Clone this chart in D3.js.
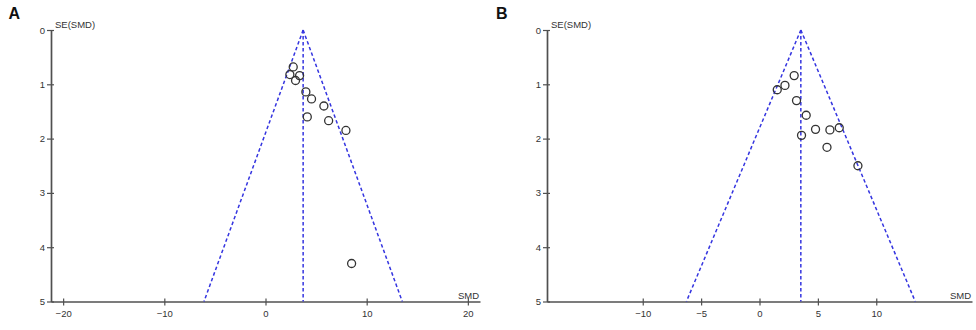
<!DOCTYPE html>
<html><head><meta charset="utf-8">
<script src="https://cdn.jsdelivr.net/npm/d3@7/dist/d3.min.js"></script>
<style>body{margin:0;background:#fff;} svg{display:block;font-family:"Liberation Sans",Arial,sans-serif;}</style>
</head><body>
<svg id="c" width="976" height="330"></svg>
<script>
// Panel A data
const smdA = [2.74, 2.41, 3.37, 2.97, 3.99, 4.55, 5.77, 4.13, 6.24, 7.95, 8.51];
const seA  = [0.68, 0.82, 0.84, 0.93, 1.14, 1.27, 1.40, 1.60, 1.67, 1.85, 4.30];
const pooledA = 3.72;
const xTicksA = [-20, -10, 0, 10, 20];
// Panel B data
const smdB = [2.97, 2.18, 1.52, 3.17, 4.00, 4.80, 6.03, 6.83, 3.60, 5.78, 8.43];
const seB  = [0.84, 1.02, 1.10, 1.30, 1.57, 1.83, 1.84, 1.80, 1.94, 2.16, 2.50];
const pooledB = 3.54;
const xTicksB = [-10, -5, 0, 5, 10];
const yTicks = [0, 1, 2, 3, 4, 5];
const seMax = 5;

const svg = d3.select("#c");
const axisCol = "#505050", textCol = "#333", blue = "#3535e0";

function panel(cfg) {
  const g = svg.append("g");
  const x = d3.scaleLinear().domain(cfg.xDomain).range(cfg.xRange);
  const y = d3.scaleLinear().domain([0, seMax]).range([30, 301.5]);

  // panel label
  g.append("text").attr("x", cfg.labelX).attr("y", 18.5).attr("font-size", 16)
    .attr("font-weight", "bold").attr("fill", "#111").text(cfg.label);

  // y axis
  const ya = d3.axisLeft(y).tickValues(yTicks).tickSize(0).tickPadding(6).tickFormat(d3.format("d"));
  const yg = g.append("g").attr("transform", `translate(${cfg.xRange[0]},0)`).call(ya);
  yg.select(".domain").attr("stroke", axisCol).attr("stroke-width", 1.7);
  yg.selectAll(".tick line").remove();
  yg.selectAll(".tick").append("line").attr("x1", -4).attr("x2", 3).attr("stroke", axisCol).attr("stroke-width", 1.2);
  yg.selectAll(".tick text").attr("font-size", 9.5).attr("fill", textCol).attr("font-family", "Liberation Sans, Arial, sans-serif");

  // x axis
  const xa = d3.axisBottom(x).tickValues(cfg.xTicks).tickSize(0).tickPadding(9).tickFormat(d3.format("d"));
  const xg = g.append("g").attr("transform", `translate(0,${y(seMax)})`).call(xa);
  xg.select(".domain").attr("stroke", axisCol).attr("stroke-width", 1.7);
  xg.selectAll(".tick line").remove();
  xg.selectAll(".tick").append("line").attr("y1", -3).attr("y2", 4).attr("stroke", axisCol).attr("stroke-width", 1.2);
  xg.selectAll(".tick text").attr("font-size", 9.5).attr("fill", textCol).attr("font-family", "Liberation Sans, Arial, sans-serif");

  // axis titles
  g.append("text").attr("x", cfg.xRange[0] + 4).attr("y", 28).attr("font-size", 9.5).attr("fill", textCol).text("SE(SMD)");
  g.append("text").attr("x", cfg.xRange[1] - 1).attr("y", 299).attr("text-anchor", "end").attr("font-size", 9.5).attr("fill", textCol).text("SMD");

  // funnel
  const p = cfg.pooled;
  const lines = [
    [[p, 0], [p - 1.96 * seMax, seMax]],
    [[p, 0], [p + 1.96 * seMax, seMax]],
    [[p, 0], [p, seMax]]
  ];
  g.selectAll("line.f").data(lines).join("line").attr("class", "f")
    .attr("x1", d => x(d[0][0])).attr("y1", d => y(d[0][1]))
    .attr("x2", d => x(d[1][0])).attr("y2", d => y(d[1][1]))
    .attr("stroke", blue).attr("stroke-width", 1.5).attr("stroke-dasharray", "3.5,2.5");

  // points
  g.selectAll("circle").data(cfg.smd.map((s, i) => [s, cfg.se[i]])).join("circle")
    .attr("cx", d => x(d[0])).attr("cy", d => y(d[1])).attr("r", 4)
    .attr("fill", "none").attr("stroke", "#333").attr("stroke-width", 1.3);
}

panel({label: "A", labelX: 8.5, xDomain: [-21.2, 21.2], xRange: [51, 480], xTicks: xTicksA, smd: smdA, se: seA, pooled: pooledA});
panel({label: "B", labelX: 496, xDomain: [-18.2, 18.2], xRange: [547, 972], xTicks: xTicksB, smd: smdB, se: seB, pooled: pooledB});
</script>
</body></html>
